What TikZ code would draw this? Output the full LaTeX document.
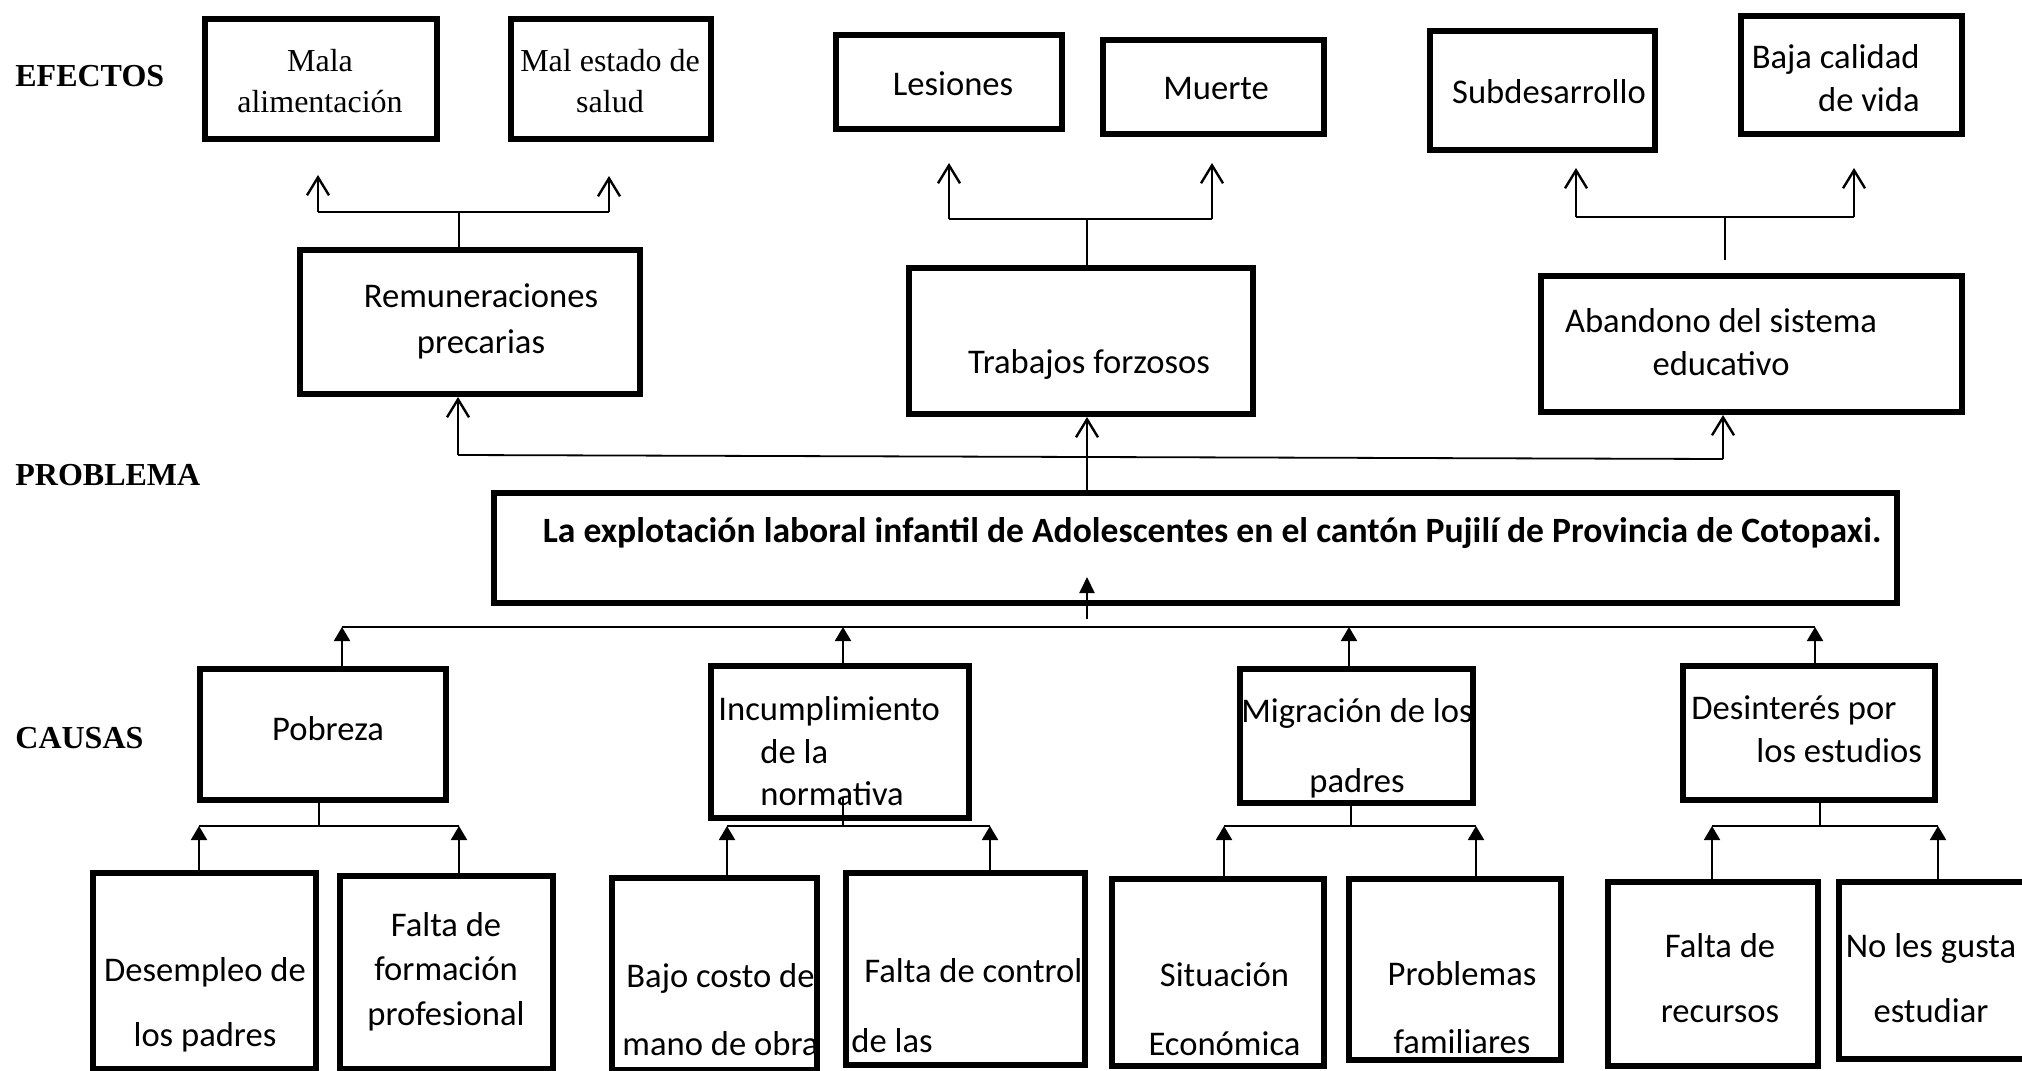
\documentclass[tikz,border=0pt]{standalone}
\usepackage{fontspec}
\setmainfont{Carlito}
\newfontfamily\serifont{Liberation Serif}
\usetikzlibrary{arrows.meta}
\tikzset{
  box/.style={draw=black,line width=3pt,inner sep=0pt},
  txt/.style={font=\fontsize{17.3}{21.5}\selectfont,inner sep=0pt,align=center},
  stxt/.style={font=\serifont\fontsize{16}{20.5}\selectfont,inner sep=0pt,align=center},
  lbl/.style={font=\serifont\bfseries\fontsize{16}{19}\selectfont,anchor=west,inner sep=0pt},
  conn/.style={line width=0.9pt},
  oarrow/.style={line width=1.2pt,-{Straight Barb[length=9pt,width=11pt]}},
  farrow/.style={line width=1pt,-{Triangle[length=7pt,width=8pt]}},
}
\begin{document}
\begin{tikzpicture}[x=0.5pt,y=-0.5pt]
\useasboundingbox[fill=white] (0,0) rectangle (2022,1070);

% ---------- labels
\node[lbl] (lefe) at (15,76) {EFECTOS};
\node[lbl] (lpro) at (15,475) {PROBLEMA};
\node[lbl] (lcau) at (15,738) {CAUSAS};

% ---------- effects
\node[box,minimum width=116pt,minimum height=60pt] (mala) at (321,79) {};
\node[box,minimum width=100pt,minimum height=60pt] (malestado) at (611,79) {};
\node[box,minimum width=113pt,minimum height=47pt] (lesiones) at (949,82) {};
\node[box,minimum width=110.5pt,minimum height=47pt] (muerte) at (1213.5,87) {};
\node[box,minimum width=112.5pt,minimum height=59.5pt] (subdes) at (1542.5,90.5) {};
\node[box,minimum width=110.5pt,minimum height=59pt] (baja) at (1851.5,75) {};

\node[stxt] (mala-t) at (320,81) {Mala\\alimentación};
\node[stxt] (malestado-t) at (610,81) {Mal estado de\\salud};
\node[txt] (lesiones-t) at (953,84) {Lesiones};
\node[txt] (muerte-t) at (1216,89) {Muerte};
\node[txt] (subdes-t) at (1549,92) {Subdesarrollo};
\node[txt,align=right,anchor=east] (baja-t) at (1920,78.5) {Baja calidad\\de vida};

% ---------- middle
\node[box,minimum width=170pt,minimum height=72pt] (remun) at (470,322) {};
\node[box,minimum width=172pt,minimum height=73pt] (trabajos) at (1081,341) {};
\node[box,minimum width=210.5pt,minimum height=68pt] (abandono) at (1751.5,344) {};

\node[txt,font=\fontsize{17.3}{23}\selectfont] (remun-t) at (481,321) {Remuneraciones\\precarias};
\node[txt] (trabajos-t) at (1089,364) {Trabajos forzosos};
\node[txt] (abandono-t) at (1721,342.5) {Abandono del sistema\\educativo};

% ---------- problem
\node[box,minimum width=701.5pt,minimum height=55pt] (problem) at (1195.5,548) {};
\node[txt,font=\bfseries\fontsize{17.8}{20}\selectfont] (problem-t) at (1212,533) {La explotación laboral infantil de Adolescentes en el cantón Pujilí de Provincia de Cotopaxi.};

% ---------- causes
\node[box,minimum width=123pt,minimum height=65.5pt] (pobreza) at (323,734.5) {};
\node[box,minimum width=129pt,minimum height=76pt] (incump) at (840,742) {};
\node[box,minimum width=116.5pt,minimum height=67pt] (migr) at (1356.5,736) {};
\node[box,minimum width=126pt,minimum height=67pt] (desint) at (1809,733) {};

\node[txt] (pobreza-t) at (328,729) {Pobreza};
\node[txt,align=left,anchor=west,font=\fontsize{17.3}{21.25}\selectfont] (incump-t) at (718,751.5) {Incumplimiento\\\hspace*{21pt}de la\\\hspace*{21pt}normativa};
\node[txt,font=\fontsize{17.3}{35}\selectfont] (migr-t) at (1357,748) {Migración de los\\padres};
\node[txt,align=left,anchor=west] (desint-t) at (1691,729.5) {Desinterés por\\\hspace*{32.5pt}los estudios};

% ---------- sub-causes
\node[box,minimum width=111.5pt,minimum height=98pt] (desemp) at (204.5,971) {};
\node[box,minimum width=106.5pt,minimum height=96.5pt] (faltaform) at (446.5,972.5) {};
\node[box,minimum width=102.5pt,minimum height=96pt] (bajo) at (714.5,974) {};
\node[box,minimum width=119.5pt,minimum height=96pt] (faltacontrol) at (965.5,969) {};
\node[box,minimum width=106pt,minimum height=93.5pt] (situ) at (1218,972.5) {};
\node[box,minimum width=106pt,minimum height=90.5pt] (probl) at (1455,969.5) {};
\node[box,minimum width=105pt,minimum height=92pt] (faltarec) at (1713,974) {};
\node[box,minimum width=94pt,minimum height=88.5pt] (noles) at (1933,970.5) {};

\node[txt,font=\fontsize{17.3}{32.5}\selectfont] (desemp-t) at (205,1004.5) {Desempleo de\\los padres};
\node[txt,font=\fontsize{17.3}{22.25}\selectfont] (faltaform-t) at (446,971.5) {Falta de\\formación\\profesional};
\node[txt,font=\fontsize{17.3}{34}\selectfont] (bajo-t) at (720.5,1010) {Bajo costo de\\mano de obra};
\node[txt,align=left,anchor=west,font=\fontsize{17.3}{35}\selectfont] (faltacontrol-t) at (851,1006) {\hspace*{6.5pt}Falta de control\\de las};
\node[txt,font=\fontsize{17.3}{34.5}\selectfont] (situ-t) at (1224.5,1009.5) {Situación\\Económica};
\node[txt,font=\fontsize{17.3}{34}\selectfont] (probl-t) at (1462,1008) {Problemas\\familiares};
\node[txt,font=\fontsize{17.3}{32.5}\selectfont] (faltarec-t) at (1720,978.5) {Falta de\\recursos};
\node[txt,font=\fontsize{17.3}{32.5}\selectfont] (noles-t) at (1931,978.5) {No les gusta\\estudiar};

% ---------- effect connectors
\coordinate (e1m) at (459,212);
\coordinate (e1l) at (318,212);
\coordinate (e1r) at (609,212);
\coordinate (e1lt) at (318,175);
\coordinate (e1rt) at (609,176);
\draw[conn] (remun.north -| e1m) -- (e1m);
\draw[conn] (e1l) -- (e1r);
\draw[oarrow] (e1l) -- (e1lt);
\draw[oarrow] (e1r) -- (e1rt);

\coordinate (e2m) at (1087,219);
\coordinate (e2l) at (949,219);
\coordinate (e2r) at (1212,219);
\coordinate (e2lt) at (949,163);
\coordinate (e2rt) at (1212,163);
\draw[conn] (trabajos.north -| e2m) -- (e2m);
\draw[conn] (e2l) -- (e2r);
\draw[oarrow] (e2l) -- (e2lt);
\draw[oarrow] (e2r) -- (e2rt);

\coordinate (e3m) at (1725,217);
\coordinate (e3s) at (1725,260);
\coordinate (e3l) at (1576,217);
\coordinate (e3r) at (1854,217);
\coordinate (e3lt) at (1576,168);
\coordinate (e3rt) at (1854,168);
\draw[conn] (e3s) -- (e3m);
\draw[conn] (e3l) -- (e3r);
\draw[oarrow] (e3l) -- (e3lt);
\draw[oarrow] (e3r) -- (e3rt);

% ---------- problem to middle
\coordinate (pm) at (1087,458);
\coordinate (ml) at (458,455);
\coordinate (mr) at (1723,459);
\draw[oarrow] (problem.north -| pm) -- (trabajos.south -| pm);
\draw[conn] (ml) -- (mr);
\draw[oarrow] (ml) -- (remun.south -| ml);
\draw[oarrow] (mr) -- (abandono.south -| mr);

% ---------- causes to problem
\coordinate (c1) at (342,627);
\coordinate (c2) at (843,627);
\coordinate (c3) at (1349,627);
\coordinate (c4) at (1815,627);
\coordinate (pa) at (1087,619);
\coordinate (pt) at (1087,577);
\draw[conn] (c1) -- (c4);
\draw[farrow] (pobreza.north -| c1) -- (c1);
\draw[farrow] (incump.north -| c2) -- (c2);
\draw[farrow] (migr.north -| c3) -- (c3);
\draw[farrow] (desint.north -| c4) -- (c4);
\draw[farrow,-{Triangle[length=8pt,width=7.5pt]}] (pa) -- (pt);

% ---------- sub-causes
\coordinate (s1) at (319,826);
\coordinate (s1l) at (199,826);
\coordinate (s1r) at (459,826);
\draw[conn] (pobreza.south -| s1) -- (s1);
\draw[conn] (s1l) -- (s1r);
\draw[farrow] (desemp.north -| s1l) -- (s1l);
\draw[farrow] (faltaform.north -| s1r) -- (s1r);

\coordinate (s2) at (843,826);
\coordinate (s2t) at (843,797);
\coordinate (s2l) at (727,826);
\coordinate (s2r) at (990,826);
\draw[conn] (s2t) -- (s2);
\draw[conn] (s2l) -- (s2r);
\draw[farrow] (bajo.north -| s2l) -- (s2l);
\draw[farrow] (faltacontrol.north -| s2r) -- (s2r);

\coordinate (s3) at (1351,826);
\coordinate (s3l) at (1224,826);
\coordinate (s3r) at (1476,826);
\draw[conn] (migr.south -| s3) -- (s3);
\draw[conn] (s3l) -- (s3r);
\draw[farrow] (situ.north -| s3l) -- (s3l);
\draw[farrow] (probl.north -| s3r) -- (s3r);

\coordinate (s4) at (1820,826);
\coordinate (s4l) at (1712,826);
\coordinate (s4r) at (1938,826);
\draw[conn] (desint.south -| s4) -- (s4);
\draw[conn] (s4l) -- (s4r);
\draw[farrow] (faltarec.north -| s4l) -- (s4l);
\draw[farrow] (noles.north -| s4r) -- (s4r);
\end{tikzpicture}
\end{document}
